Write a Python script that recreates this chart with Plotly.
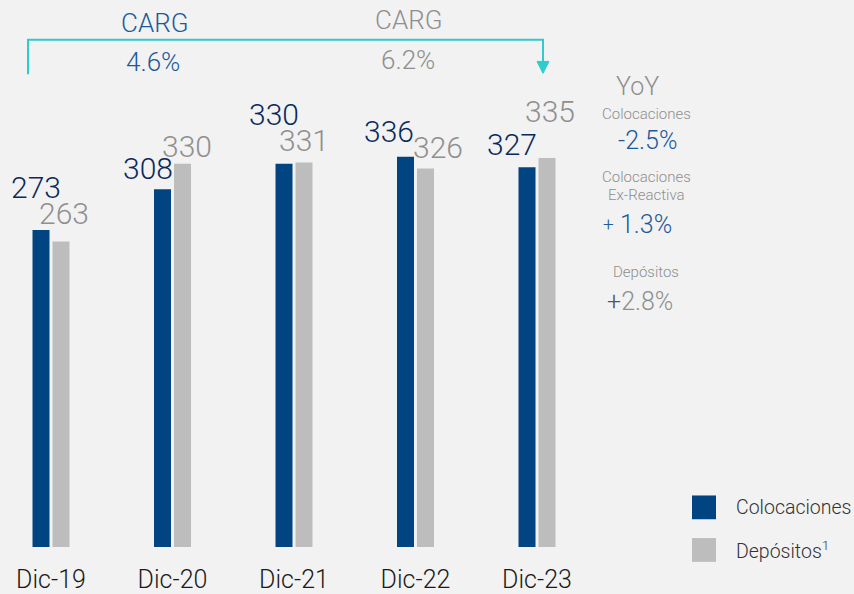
import plotly.graph_objects as go

# ---- data ----
categories = ["Dic-19", "Dic-20", "Dic-21", "Dic-22", "Dic-23"]
colocaciones = [273, 308, 330, 336, 327]
depositos = [263, 330, 331, 326, 335]

# label offsets (pixels) relative to group centre / bar top
col_label_dx = [-15, -25, -20, -27, -25]
col_label_dy = [42, 21, 49, 25, 23]
dep_label_dx = [13, 14, 10, 22, 13]
dep_label_dy = [28, 17, 22, 21, 46]

BLUE = "#004481"
GRAY = "#BDBDBD"
NAVY = "#0A2A5C"
LBLUE = "#1D5A9A"
TGRAY = "#8F8F8F"
CYAN = "#2DCCCD"
BG = "#F2F2F2"
FONT = "Roboto"
WT = 300

W, H = 854, 594
PH = 552  # plot height (top margin 0, bottom margin 42)


def px(x):
    return x / W


def py(y):
    return 1 - y / PH


fig = go.Figure()
fig.add_trace(go.Bar(x=categories, y=colocaciones, name="Colocaciones",
                     marker=dict(color=BLUE, line=dict(width=0))))
fig.add_trace(go.Bar(x=categories, y=depositos, name="Depósitos",
                     marker=dict(color=GRAY, line=dict(width=0))))

ann = []
for i, c in enumerate(categories):
    ann.append(dict(x=c, y=colocaciones[i], xref="x", yref="y", text=str(colocaciones[i]),
                    showarrow=False, xanchor="center", yanchor="middle",
                    xshift=col_label_dx[i], yshift=col_label_dy[i],
                    font=dict(family=FONT, size=30, color=NAVY, weight=WT)))
    ann.append(dict(x=c, y=depositos[i], xref="x", yref="y", text=str(depositos[i]),
                    showarrow=False, xanchor="center", yanchor="middle",
                    xshift=dep_label_dx[i], yshift=dep_label_dy[i],
                    font=dict(family=FONT, size=30, color=TGRAY, weight=WT)))


def text(x, y, t, size, color):
    ann.append(dict(x=px(x), y=py(y), xref="paper", yref="paper", text=t, showarrow=False,
                    xanchor="center", yanchor="middle",
                    font=dict(family=FONT, size=size, color=color, weight=WT)))


# CARG
text(154, 23, "CARG", 26, LBLUE)
text(153, 63, "4.6%", 26, LBLUE)
text(408, 20, "CARG", 26, TGRAY)
text(408, 61, "6.2%", 26, TGRAY)

# YoY block
text(637, 87, "YoY", 25, TGRAY)
text(646, 115, "Colocaciones", 15, TGRAY)
text(647, 142, "-2.5%", 25, LBLUE)
text(646, 179, "Colocaciones", 15, TGRAY)
text(646, 197, "Ex-Reactiva", 15, TGRAY)
text(608, 227, "+", 19, LBLUE)
text(646, 227, "1.3%", 25, LBLUE)
text(646, 274, "Depósitos", 15, TGRAY)
text(640, 304, "<span style='color:#555555'>+</span>2.8%", 25, TGRAY)

# legend text
ann.append(dict(x=px(734), y=py(512), xref="paper", yref="paper", text="Colocaciones",
                showarrow=False, xanchor="left", yanchor="middle",
                font=dict(family=FONT, size=19.5, color="#333333", weight=WT)))
ann.append(dict(x=px(734), y=py(555), xref="paper", yref="paper", text="Depósitos<sup>1</sup>",
                showarrow=False, xanchor="left", yanchor="middle",
                font=dict(family=FONT, size=19.5, color="#333333", weight=WT)))

shapes = [
    # bracket
    dict(type="path", xref="paper", yref="paper",
         path=f"M {px(28)} {py(75)} L {px(28)} {py(40)} L {px(543)} {py(40)} L {px(543)} {py(64)}",
         line=dict(color=CYAN, width=2)),
    dict(type="path", xref="paper", yref="paper",
         path=f"M {px(537)} {py(62)} L {px(549)} {py(62)} L {px(543)} {py(74)} Z",
         line=dict(color=CYAN, width=1), fillcolor=CYAN),
    # legend squares
    dict(type="rect", xref="paper", yref="paper", x0=px(692), x1=px(716), y0=py(524), y1=py(500),
         fillcolor=BLUE, line=dict(width=0)),
    dict(type="rect", xref="paper", yref="paper", x0=px(692), x1=px(716), y0=py(567), y1=py(543),
         fillcolor=GRAY, line=dict(width=0)),
]

span = W / 121.5
x0 = -51 / 121.5
fig.update_layout(
    width=W, height=H,
    margin=dict(l=0, r=0, t=0, b=42),
    paper_bgcolor=BG, plot_bgcolor=BG,
    barmode="group", bargap=0.671, bargroupgap=0.15,
    showlegend=False,
    annotations=ann, shapes=shapes,
    xaxis=dict(range=[x0, x0 + span], showgrid=False, zeroline=False, showline=False,
               ticks="outside", ticklen=10, tickcolor=BG,
               tickfont=dict(family=FONT, size=25, color="#1A1A1A", weight=WT)),
    yaxis=dict(range=[0, PH / 1.172], showgrid=False, zeroline=False, showline=False,
               showticklabels=False),
    font=dict(family=FONT, weight=WT),
)

fig.write_html("out.html", config={"displayModeBar": False},
               post_script="document.body.style.margin='0';document.body.style.overflow='hidden';document.body.style.background='#F2F2F2';")
